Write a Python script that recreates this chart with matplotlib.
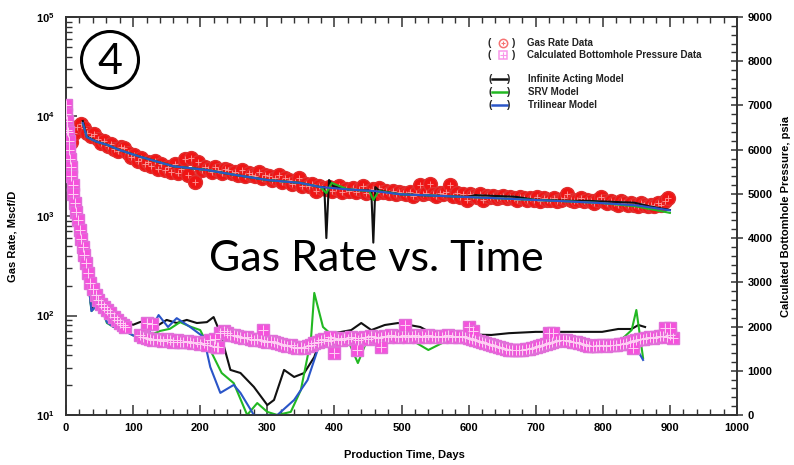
import matplotlib
matplotlib.use("Agg")
import matplotlib.pyplot as plt
from matplotlib.ticker import FixedLocator, FixedFormatter, MultipleLocator, NullFormatter
from matplotlib.patches import Ellipse
from matplotlib.lines import Line2D

W, H = 794, 465
plt.rcParams['font.family'] = ['Liberation Sans', 'DejaVu Sans']
plt.rcParams['mathtext.fontset'] = 'custom'
plt.rcParams['mathtext.rm'] = 'Liberation Sans'
plt.rcParams['mathtext.bf'] = 'Liberation Sans:bold'

# ---------------- measured gas rate (Mscf/D) ----------------
rate_day = [
    2, 7, 12, 17, 22, 27, 32, 37, 42, 47, 52, 57,
    62, 67, 72, 77, 82, 87, 92, 97, 102, 107, 112, 117,
    122, 127, 132, 137, 142, 147, 152, 157, 162, 167, 172, 177,
    182, 187, 192, 197, 202, 207, 212, 217, 222, 227, 232, 237,
    242, 247, 252, 257, 262, 267, 272, 277, 282, 287, 292, 297,
    302, 307, 312, 317, 322, 327, 332, 337, 342, 347, 352, 357,
    362, 367, 372, 377, 382, 387, 392, 397, 402, 407, 412, 417,
    422, 427, 432, 437, 442, 447, 452, 457, 462, 467, 472, 477,
    482, 487, 492, 497, 502, 507, 512, 517, 522, 527, 532, 537,
    542, 547, 552, 557, 562, 567, 572, 577, 582, 587, 592, 597,
    602, 607, 612, 617, 622, 627, 632, 637, 642, 647, 652, 657,
    662, 667, 672, 677, 682, 687, 692, 697, 702, 707, 712, 717,
    722, 727, 732, 737, 742, 747, 752, 757, 762, 767, 772, 777,
    782, 787, 792, 797, 802, 807, 812, 817, 822, 827, 832, 837,
    842, 847, 852, 857, 862, 867, 872, 877, 882, 887, 892, 897,
]
rate_val = [
    6200, 5600, 6900, 7800, 8400, 7600, 6900, 6300, 6600, 5900, 5400, 5700,
    5100, 5300, 4700, 4500, 4900, 4800, 4300, 3900, 4100, 3600, 3800, 3300,
    3500, 3200, 3600, 3000, 3300, 2900, 3100, 2800, 3300, 2700, 3000, 3700,
    2600, 3800, 2200, 3500, 2900, 3100, 3000, 2800, 3100, 2900, 2700, 3000,
    2900, 2700, 2800, 2600, 2900, 2500, 2700, 2600, 2500, 2800, 2400, 2600,
    2500, 2300, 2400, 2600, 2200, 2400, 2300, 2100, 2200, 2400, 2000, 2100,
    2000, 2100, 1800, 2000, 1900, 1850, 1950, 1800, 1900, 2000, 1750, 1850,
    1800, 1900, 1750, 1850, 2000, 1700, 1800, 1850, 1700, 1900, 1750, 1800,
    1700, 1800, 1650, 1750, 1700, 1650, 1750, 1600, 1700, 2050, 1650, 1700,
    2100, 1650, 1600, 1700, 1650, 1750, 2050, 1600, 1700, 1550, 1650, 1450,
    1650, 1600, 1550, 1650, 1450, 1600, 1550, 1600, 1500, 1550, 1600, 1500,
    1550, 1500, 1450, 1550, 1500, 1450, 1500, 1450, 1550, 1400, 1500, 1450,
    1450, 1500, 1400, 1450, 1500, 1650, 1450, 1400, 1450, 1500, 1400, 1450,
    1400, 1350, 1450, 1550, 1400, 1350, 1400, 1350, 1300, 1400, 1350, 1300,
    1350, 1300, 1250, 1350, 1300, 1250, 1300, 1250, 1350, 1300, 1400, 1500,
]

# ---------------- calculated bottomhole pressure (psia) ----------------
pres_day = [
    0, 0, 1, 1, 3, 4, 5, 6, 7, 8, 10, 11, 13, 15, 18, 21, 23, 25, 27, 30,
    33, 36, 40, 44, 48, 52, 56, 61, 66, 71, 76, 81, 85, 88,
    110, 115, 120, 125, 130, 135, 140, 145, 150, 155, 160, 165,
    170, 175, 180, 185, 190, 195, 200, 205, 210, 215, 220, 225,
    230, 235, 240, 245, 250, 255, 260, 265, 270, 275, 280, 285,
    290, 295, 300, 305, 310, 315, 320, 325, 330, 335, 340, 345,
    350, 355, 360, 365, 370, 375, 380, 385, 390, 395, 400, 405,
    410, 415, 420, 425, 430, 435, 440, 445, 450, 455, 460, 465,
    470, 475, 480, 485, 490, 495, 500, 505, 510, 515, 520, 525,
    530, 535, 540, 545, 550, 555, 560, 565, 570, 575, 580, 585,
    590, 595, 600, 605, 610, 615, 620, 625, 630, 635, 640, 645,
    650, 655, 660, 665, 670, 675, 680, 685, 690, 695, 700, 705,
    710, 715, 720, 725, 730, 735, 740, 745, 750, 755, 760, 765,
    770, 775, 780, 785, 790, 795, 800, 805, 810, 815, 820, 825,
    830, 835, 840, 845, 850, 855, 860, 865, 870, 875, 880, 885,
    890, 895, 900, 905,
    120, 128, 222, 226, 294, 394, 400, 434, 470, 505, 600, 606,
    720, 726, 845, 893, 900,
]
pres_val = [
    7000, 6800, 6650, 6450, 6400, 6200, 6000, 5800, 5600, 5400, 5200, 5000,
    4800, 4600, 4400, 4180, 3980, 3800, 3620, 3440,
    3200, 2990, 2850, 2720, 2600, 2520, 2440, 2370, 2300, 2220, 2150, 2080, 2035, 2000,
    1800, 1760, 1740, 1720, 1700, 1720, 1700, 1680, 1720, 1690, 1660, 1700,
    1660, 1640, 1680, 1650, 1620, 1640, 1600, 1620, 1580, 1700, 1560, 1540,
    1850, 1900, 1850, 1820, 1800, 1780, 1760, 1740, 1760, 1720, 1700, 1720,
    1700, 1680, 1660, 1680, 1640, 1620, 1600, 1580, 1560, 1580, 1540, 1520,
    1540, 1520, 1560, 1580, 1620, 1660, 1700, 1720, 1680, 1700, 1740, 1720,
    1700, 1740, 1720, 1760, 1740, 1700, 1740, 1760, 1720, 1780, 1760, 1740,
    1760, 1780, 1760, 1800, 1780, 1760, 1780, 1800, 1760, 1780, 1800, 1760,
    1780, 1760, 1800, 1780, 1760, 1780, 1760, 1780, 1800, 1760, 1780, 1760,
    1780, 1760, 1740, 1720, 1700, 1680, 1660, 1620, 1600, 1580, 1560, 1540,
    1520, 1500, 1480, 1470, 1460, 1480, 1470, 1490, 1500, 1520, 1540, 1560,
    1580, 1600, 1620, 1650, 1680, 1700, 1700, 1690, 1680, 1660, 1640, 1620,
    1600, 1580, 1570, 1560, 1570, 1580, 1580, 1570, 1580, 1590, 1580, 1600,
    1600, 1620, 1650, 1680, 1700, 1720, 1720, 1740, 1760, 1740, 1760, 1780,
    1780, 1760, 1800, 1740,
    2090, 2060, 1720, 1540, 1920, 1760, 1400, 1470, 1540, 2030, 1980, 1900,
    1860, 1850, 1520, 1970, 1960,
]

# ---------------- model rates (Mscf/D) ----------------
tri_rate_day = [25, 31, 45, 61, 80, 110, 160, 210, 250, 300, 349, 379, 420,
                460, 499, 550, 598, 650, 697, 750, 797, 850, 900]
tri_rate = [8600, 6200, 5600, 5200, 4600, 3950, 3160, 2900, 2600, 2300, 2150,
            1955, 1850, 1780, 1650, 1600, 1550, 1500, 1450, 1400, 1350, 1280, 1140]

ia_rate_day = [25, 31, 45, 61, 80, 110, 160, 210, 250, 300, 349, 379, 385, 388,
               392, 398, 420, 452, 455, 458, 461, 467, 499, 550, 598, 610, 670,
               697, 750, 777, 847, 870, 900]
ia_rate = [9000, 6300, 5600, 5200, 4600, 3950, 3160, 2900, 2600, 2300, 2150,
           1955, 1950, 600, 2300, 2000, 1850, 1800, 1780, 540, 1950, 1800, 1650,
           1600, 1560, 1620, 1560, 1460, 1420, 1420, 1360, 1250, 1150]

srv_rate_day = [25, 31, 45, 61, 80, 110, 160, 210, 250, 300, 349, 379, 388,
                396, 420, 452, 458, 466, 499, 550, 598, 650, 697, 750, 797,
                850, 900]
srv_rate = [8500, 6200, 5600, 5200, 4600, 3950, 3160, 2900, 2600, 2300, 2150,
            1955, 1700, 2150, 1850, 1780, 1450, 1780, 1650, 1600, 1550, 1500,
            1450, 1400, 1350, 1250, 1075]

# ---------------- model pressures (psia) ----------------
ia_p_day = [25, 30, 38, 46, 56, 66, 80, 92, 100, 110, 125, 138, 150, 165, 180,
            195, 210, 220, 230, 245, 260, 280, 300, 310, 325, 340, 355, 370,
            380, 400, 425, 440, 455, 475, 495, 528, 545, 570, 600, 634, 660,
            700, 749, 799, 823, 843, 853, 863]
ia_p = [4250, 3450, 2400, 2600, 2420, 2280, 2080, 2080, 2040, 2100, 2150, 2035,
        2150, 2080, 2150, 2080, 2100, 2215, 1850, 1020, 950, 635, 225, 340,
        1020, 860, 950, 1310, 1765, 1850, 1920, 2080, 1920, 2035, 2080, 1990,
        1850, 1800, 1820, 1810, 1850, 1880, 1880, 1880, 1945, 1945, 2035, 1990]

srv_p_day = [25, 30, 38, 50, 61, 70, 85, 100, 110, 125, 140, 155, 170, 185,
             200, 215, 232, 250, 270, 285, 300, 315, 335, 350, 365, 370, 383,
             400, 420, 435, 450, 480, 510, 540, 570, 600, 640, 700, 750, 785,
             820, 843, 850, 860]
srv_p = [4250, 3450, 2350, 2550, 2080, 2000, 1920, 1800, 1740, 1800, 1900,
         1950, 2100, 2000, 1920, 1470, 950, 720, 0, 270, 70, 0, 70, 565, 1700,
         2760, 1990, 1760, 1700, 1175, 1740, 1760, 1740, 1470, 1700, 1720,
         1580, 1520, 1650, 1420, 1600, 1920, 2375, 1290]

tri_p_day = [25, 30, 38, 50, 61, 70, 85, 100, 110, 125, 138, 152, 165, 185,
             205, 215, 230, 250, 260, 280, 315, 340, 360, 380, 400, 430, 470,
             500, 540, 600, 650, 700, 750, 800, 843, 860]
tri_p = [4250, 3450, 2350, 2550, 2100, 2000, 1920, 1800, 1765, 1900, 2260,
         1990, 2190, 1990, 1765, 1085, 500, 680, 500, 0, 0, 340, 790, 1700,
         1760, 1740, 1700, 1750, 1700, 1720, 1560, 1500, 1620, 1580, 1700, 1245]

RED = '#f01414'
RED_EDGE = '#e03030'
PINK = '#f552dc'
GREEN = '#22b822'
BLUE = '#2a55c8'
BLACK = '#111111'

fig = plt.figure(figsize=(W / 100, H / 100), dpi=100)
L, R, T, B = 66, 737, 17, 415
ax = fig.add_axes([L / W, 1 - B / H, (R - L) / W, (B - T) / H])
ax2 = ax.twinx()

# gas rate axis
ax.set_yscale('log')
ax.set_xlim(0, 1000)
ax.set_ylim(10, 1e5)
ax.plot(rate_day, rate_val, ls='none', marker='o', ms=10, mfc=RED,
        mec=RED_EDGE, mew=1.0, zorder=2)
ax.plot(rate_day, rate_val, ls='none', marker='+', ms=4, mec='#ff9a9a', mew=0.6,
        zorder=2)
ax.plot(ia_rate_day, ia_rate, color=BLACK, lw=1.5, zorder=3)
ax.plot(srv_rate_day, srv_rate, color=GREEN, lw=1.5, zorder=3)
ax.plot(tri_rate_day, tri_rate, color=BLUE, lw=1.5, zorder=3)

# pressure axis
ax2.set_ylim(0, 9000)
ax2.plot(ia_p_day, ia_p, color=BLACK, lw=1.5, zorder=2)
ax2.plot(srv_p_day, srv_p, color=GREEN, lw=1.5, zorder=2)
ax2.plot(tri_p_day, tri_p, color=BLUE, lw=1.5, zorder=2)
ax2.plot(pres_day, pres_val, ls='none', marker='s', ms=8.3, mfc=PINK,
         mec='#e070d8', mew=1.0, zorder=3)
ax2.plot(pres_day, pres_val, ls='none', marker='+', ms=6.5, mec='#ffd0f4', mew=0.7,
         zorder=3)

# ticks and spines
for a in (ax, ax2):
    for s in a.spines.values():
        s.set_linewidth(1.2)
        s.set_color('#333333')

ax.xaxis.set_major_locator(MultipleLocator(100))
ax.xaxis.set_minor_locator(MultipleLocator(20))
ax.tick_params(axis='x', which='both', direction='in', top=True, bottom=True,
               color='#333333', labelsize=8, pad=6)
ax.tick_params(axis='x', which='major', length=7, width=1.1)
ax.tick_params(axis='x', which='minor', length=4, width=1.0)
for t in ax.get_xticklabels():
    t.set_fontweight('bold')

decades = [10, 100, 1000, 10000, 100000]
ax.yaxis.set_major_locator(FixedLocator(decades))
ax.yaxis.set_major_formatter(FixedFormatter(
    [r'$\mathbf{10^{%d}}$' % e for e in range(1, 6)]))
minors = [m * d for d in decades[:-1] for m in range(2, 10)]
ax.yaxis.set_minor_locator(FixedLocator(minors))
ax.yaxis.set_minor_formatter(NullFormatter())
ax.tick_params(axis='y', which='both', direction='in', left=True, right=False,
               color='#333333', labelsize=8, pad=8)
ax.tick_params(axis='y', which='major', length=8, width=1.1)
ax.tick_params(axis='y', which='minor', length=4, width=1.0)

ax2.yaxis.set_major_locator(MultipleLocator(1000))
ax2.yaxis.set_minor_locator(MultipleLocator(200))
ax2.tick_params(axis='y', which='major', direction='inout', length=9,
                width=1.1, labelsize=8, pad=3, color='#333333')
ax2.tick_params(axis='y', which='minor', direction='in', length=4, width=1.0,
                color='#333333')
for t in ax2.get_yticklabels():
    t.set_fontweight('bold')


def fx(x):
    return x / W


def fy(y):
    return 1 - y / H


fig.text(fx(404), fy(455), 'Production Time, Days', fontsize=8,
         fontweight='bold', ha='center', va='center')
ax.set_ylabel('Gas Rate, Mscf/D', fontsize=8, fontweight='bold')
ax.yaxis.set_label_coords((18 - L) / (R - L), 0.45)
fig.text(fx(786), fy(216), 'Calculated Bottomhole Pressure, psia', fontsize=8,
         fontweight='bold', rotation=90, ha='center', va='center')

# key
kw = dict(fontsize=7, fontweight='bold', va='center', color='#222222')
for y, label, col, mk in [(43, 'Gas Rate Data', RED, 'o'),
                          (55, 'Calculated Bottomhole Pressure Data', PINK, 's')]:
    fig.text(fx(487), fy(y), '(', **kw)
    fig.text(fx(512), fy(y), ')', **kw)
    fig.text(fx(527), fy(y), label, **kw)
    fig.add_artist(Line2D([fx(503)], [fy(y)], marker=mk, ms=6, mfc='none',
                          mec=col, mew=1.1, alpha=0.6, transform=fig.transFigure))
    fig.add_artist(Line2D([fx(503)], [fy(y)], marker='+', ms=5 if mk == 's' else 3,
                          mec=col, mew=0.8, alpha=0.6, transform=fig.transFigure))
for y, label, col in [(79, 'Infinite Acting Model', BLACK),
                      (92, 'SRV Model', GREEN),
                      (105, 'Trilinear Model', BLUE)]:
    fig.text(fx(489), fy(y), '(', **kw)
    fig.text(fx(507), fy(y), ')', **kw)
    fig.text(fx(528), fy(y), label, **kw)
    fig.add_artist(Line2D([fx(492), fx(507)], [fy(y), fy(y)], color=col, lw=1.8,
                          transform=fig.transFigure))

# panel number and caption
fig.add_artist(Ellipse((fx(110), fy(60)), 57 / W, 57 / H, fill=False,
                       lw=2.2, color='black', transform=fig.transFigure))
fig.text(fx(110), fy(62), '4', fontsize=31, family='Lato', ha='center',
         va='center', color='black')
fig.text(fx(376), fy(259), 'Gas Rate vs. Time', fontsize=31, family='Lato',
         ha='center', va='center', color='black')

fig.savefig('out.png', dpi=100)
